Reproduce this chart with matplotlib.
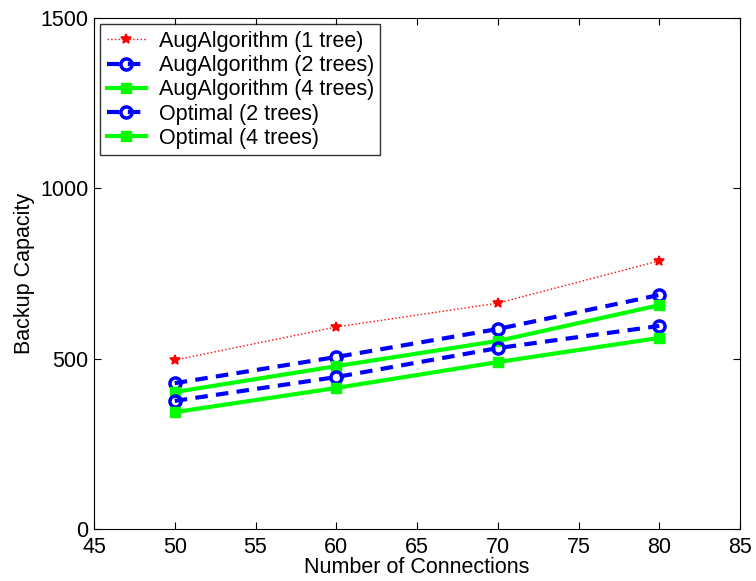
import matplotlib
matplotlib.use("Agg")
import matplotlib.pyplot as plt

plt.rcParams['font.family'] = ['Liberation Sans', 'DejaVu Sans']

connections = [50, 60, 70, 80]
aug_1tree = [496, 593, 663, 787]
aug_2trees = [428, 505, 587, 687]
aug_4trees = [402, 478, 552, 657]
opt_2trees = [376, 446, 531, 596]
opt_4trees = [343, 414, 490, 561]

xticks = [45, 50, 55, 60, 65, 70, 75, 80, 85]
yticks = [0, 500, 1000, 1500]

FS = 15.5

fig = plt.figure(figsize=(7.56, 5.81), dpi=100)
ax = fig.add_axes([94/756, 1-529/581, (740-94)/756, (529-18)/581])

ax.plot(connections, aug_1tree, color='#ff0000', linestyle=':', linewidth=1.0,
        marker='*', markersize=7, markeredgewidth=1.2, label='AugAlgorithm (1 tree)')
ax.plot(connections, aug_2trees, color='#0000ff', linestyle='--', linewidth=3,
        dashes=(3, 2), marker='o', markersize=8, markerfacecolor='none',
        markeredgewidth=2.5, label='AugAlgorithm (2 trees)')
ax.plot(connections, aug_4trees, color='#00ff00', linestyle='-', linewidth=3,
        marker='s', markersize=7, label='AugAlgorithm (4 trees)')
ax.plot(connections, opt_2trees, color='#0000ff', linestyle='--', linewidth=3,
        dashes=(3, 2), marker='o', markersize=8, markerfacecolor='none',
        markeredgewidth=2.5, label='Optimal (2 trees)')
ax.plot(connections, opt_4trees, color='#00ff00', linestyle='-', linewidth=3,
        marker='s', markersize=7, label='Optimal (4 trees)')

ax.set_xlim(45, 85)
ax.set_ylim(0, 1500)
ax.set_xticks(xticks)
ax.set_yticks(yticks)
ax.tick_params(direction='in', length=5, labelsize=FS, top=True, right=True)
ax.tick_params(axis='x', pad=6)
ax.tick_params(axis='y', pad=4)
ax.set_xlabel('Number of Connections', fontsize=FS, labelpad=-1)
ax.set_ylabel('Backup Capacity', fontsize=FS, labelpad=4)

leg = ax.legend(loc='upper left', fontsize=FS, frameon=True, fancybox=False,
                edgecolor='black', borderaxespad=0.3, handlelength=1.8,
                labelspacing=0.15, borderpad=0.3, handletextpad=0.6)
leg.get_frame().set_linewidth(1.0)

fig.savefig('out.png', dpi=100)
